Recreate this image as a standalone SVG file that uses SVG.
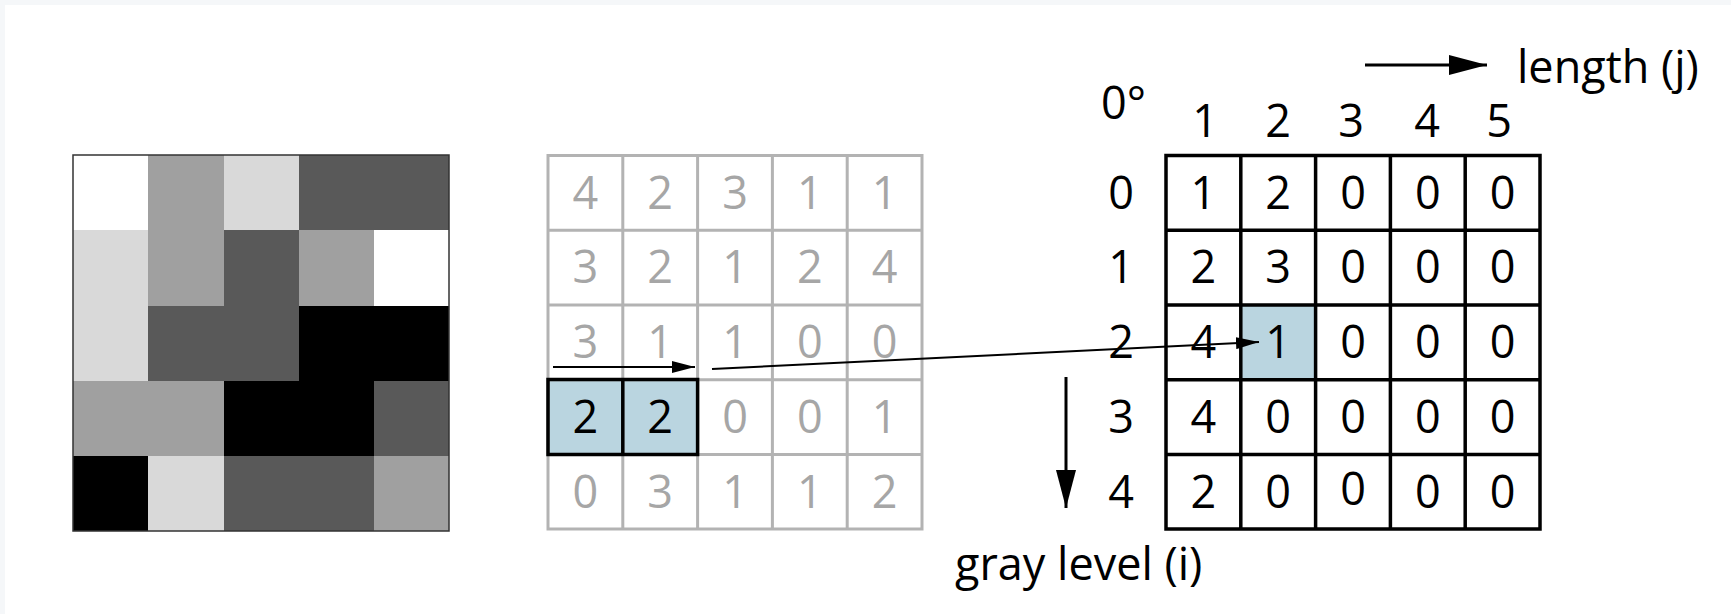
<svg xmlns="http://www.w3.org/2000/svg" width="1731" height="614" viewBox="0 0 1731 614">
<style>
.t{font-family:"Open Sans","Liberation Sans",sans-serif;font-size:45px;text-anchor:middle}
.g{fill:#a6a6a6}
.k{fill:#000}
.gl{stroke:#b3b3b3;stroke-width:3;fill:none}
.bl{stroke:#000;stroke-width:3.5;fill:none}
.hl{fill:#bad5e0}
#image rect{shape-rendering:crispEdges}
.c0{fill:#000}.c1{fill:#595959}.c2{fill:#a0a0a0}.c3{fill:#d9d9d9}.c4{fill:#fff}
.ar{stroke:#000;stroke-width:2;fill:none}
.arb{stroke:#000;stroke-width:3;fill:none}
</style>
<defs>
<marker id="hs" markerUnits="userSpaceOnUse" markerWidth="23" markerHeight="12" refX="23" refY="6" orient="auto"><path d="M0,0 L23,6 L0,12 z" fill="#000"/></marker>
<marker id="hb" markerUnits="userSpaceOnUse" markerWidth="38" markerHeight="20" refX="38" refY="10" orient="auto"><path d="M0,0 L38,10 L0,20 z" fill="#000"/></marker>
</defs>
<rect x="0" y="0" width="1731" height="614" fill="#f5f7f9"/>
<rect x="5" y="5" width="1726" height="609" fill="#fff"/>

<g id="image">
<rect class="c4" x="73" y="155" width="75" height="75"/>
<rect class="c2" x="148" y="155" width="76" height="75"/>
<rect class="c3" x="224" y="155" width="75" height="75"/>
<rect class="c1" x="299" y="155" width="150" height="75"/>
<rect class="c3" x="73" y="230" width="75" height="226"/>
<rect class="c2" x="148" y="230" width="76" height="76"/>
<rect class="c1" x="224" y="230" width="75" height="76"/>
<rect class="c2" x="299" y="230" width="75" height="76"/>
<rect class="c4" x="374" y="230" width="75" height="76"/>
<rect class="c1" x="148" y="306" width="151" height="75"/>
<rect class="c0" x="299" y="306" width="150" height="75"/>
<rect class="c2" x="73" y="381" width="151" height="75"/>
<rect class="c0" x="224" y="381" width="150" height="75"/>
<rect class="c1" x="374" y="381" width="75" height="75"/>
<rect class="c0" x="73" y="456" width="75" height="75"/>
<rect class="c3" x="148" y="456" width="76" height="75"/>
<rect class="c1" x="224" y="456" width="150" height="75"/>
<rect class="c2" x="374" y="456" width="75" height="75"/>
<rect x="73" y="155" width="376" height="376" fill="none" stroke="#333" stroke-width="1.5" style="shape-rendering:auto"/>
</g>

<g id="gray-matrix">
<rect class="hl" x="548" y="379.4" width="149.6" height="74.8"/>
<path class="gl" d="M548,155.5H922V529H548Z M622.8,155.5V529 M697.6,155.5V529 M772.4,155.5V529 M847.2,155.5V529 M548,230.2H922 M548,305H922 M548,379.8H922 M548,454.6H922"/>
<path class="bl" d="M548,379.6H697.6V454.4H548Z M622.8,379.6V454.4" stroke-width="4"/>
<g class="t g">
<text x="585.4" y="208.5">4</text><text x="660.2" y="208.5">2</text><text x="735" y="208.5">3</text><text x="809.8" y="208.5">1</text><text x="884.6" y="208.5">1</text>
<text x="585.4" y="283.3">3</text><text x="660.2" y="283.3">2</text><text x="735" y="283.3">1</text><text x="809.8" y="283.3">2</text><text x="884.6" y="283.3">4</text>
<text x="585.4" y="358.1">3</text><text x="660.2" y="358.1">1</text><text x="735" y="358.1">1</text><text x="809.8" y="358.1">0</text><text x="884.6" y="358.1">0</text>
<text class="k" x="585.4" y="432.9">2</text><text class="k" x="660.2" y="432.9">2</text><text x="735" y="432.9">0</text><text x="809.8" y="432.9">0</text><text x="884.6" y="432.9">1</text>
<text x="585.4" y="507.7">0</text><text x="660.2" y="507.7">3</text><text x="735" y="507.7">1</text><text x="809.8" y="507.7">1</text><text x="884.6" y="507.7">2</text>
</g>
</g>

<g id="run-length-matrix">
<rect class="hl" x="1241" y="305" width="74.8" height="74.8"/>
<path class="bl" d="M1166,155.5H1540V529H1166Z M1240.8,155.5V529 M1315.6,155.5V529 M1390.4,155.5V529 M1465.2,155.5V529 M1166,230.2H1540 M1166,305H1540 M1166,379.8H1540 M1166,454.6H1540"/>
<g class="t k">
<text x="1203.4" y="208.5">1</text><text x="1278.2" y="208.5">2</text><text x="1353" y="208.5">0</text><text x="1427.8" y="208.5">0</text><text x="1502.6" y="208.5">0</text>
<text x="1203.4" y="283.3">2</text><text x="1278.2" y="283.3">3</text><text x="1353" y="283.3">0</text><text x="1427.8" y="283.3">0</text><text x="1502.6" y="283.3">0</text>
<text x="1203.4" y="358.1">4</text><text x="1278.2" y="358.1">1</text><text x="1353" y="358.1">0</text><text x="1427.8" y="358.1">0</text><text x="1502.6" y="358.1">0</text>
<text x="1203.4" y="432.9">4</text><text x="1278.2" y="432.9">0</text><text x="1353" y="432.9">0</text><text x="1427.8" y="432.9">0</text><text x="1502.6" y="432.9">0</text>
<text x="1203.4" y="507.7">2</text><text x="1278.2" y="507.7">0</text><text x="1353" y="505">0</text><text x="1427.8" y="507.7">0</text><text x="1502.6" y="507.7">0</text>
</g>
</g>

<g id="row-labels" class="t k">
<text x="1121" y="208.5">0</text>
<text x="1121" y="283.3">1</text>
<text x="1121" y="358.1">2</text>
<text x="1121" y="432.9">3</text>
<text x="1121" y="507.7">4</text>
</g>

<g id="column-labels" class="t k">
<text x="1205" y="137">1</text>
<text x="1278" y="137">2</text>
<text x="1351" y="137">3</text>
<text x="1427" y="137">4</text>
<text x="1499" y="137">5</text>
</g>

<g id="angle-label">
<text x="1101" y="119" style="font-family:'Open Sans','Liberation Sans',sans-serif;font-size:45px">0°</text>
</g>

<g id="length-label">
<text x="1517" y="83" style="font-family:'Open Sans','Liberation Sans',sans-serif;font-size:45px">length (j)</text>
</g>

<g id="gray-level-label">
<text x="955" y="580" style="font-family:'Open Sans','Liberation Sans',sans-serif;font-size:45px">gray level (i)</text>
</g>

<g id="connectors">
<line class="ar" x1="553" y1="367" x2="695" y2="367" marker-end="url(#hs)"/>
<line class="ar" x1="712" y1="369" x2="1259" y2="342" marker-end="url(#hs)"/>
<line class="arb" x1="1365" y1="65" x2="1487" y2="65" marker-end="url(#hb)"/>
<line class="arb" x1="1066" y1="377" x2="1066" y2="508" marker-end="url(#hb)"/>
</g>
</svg>
